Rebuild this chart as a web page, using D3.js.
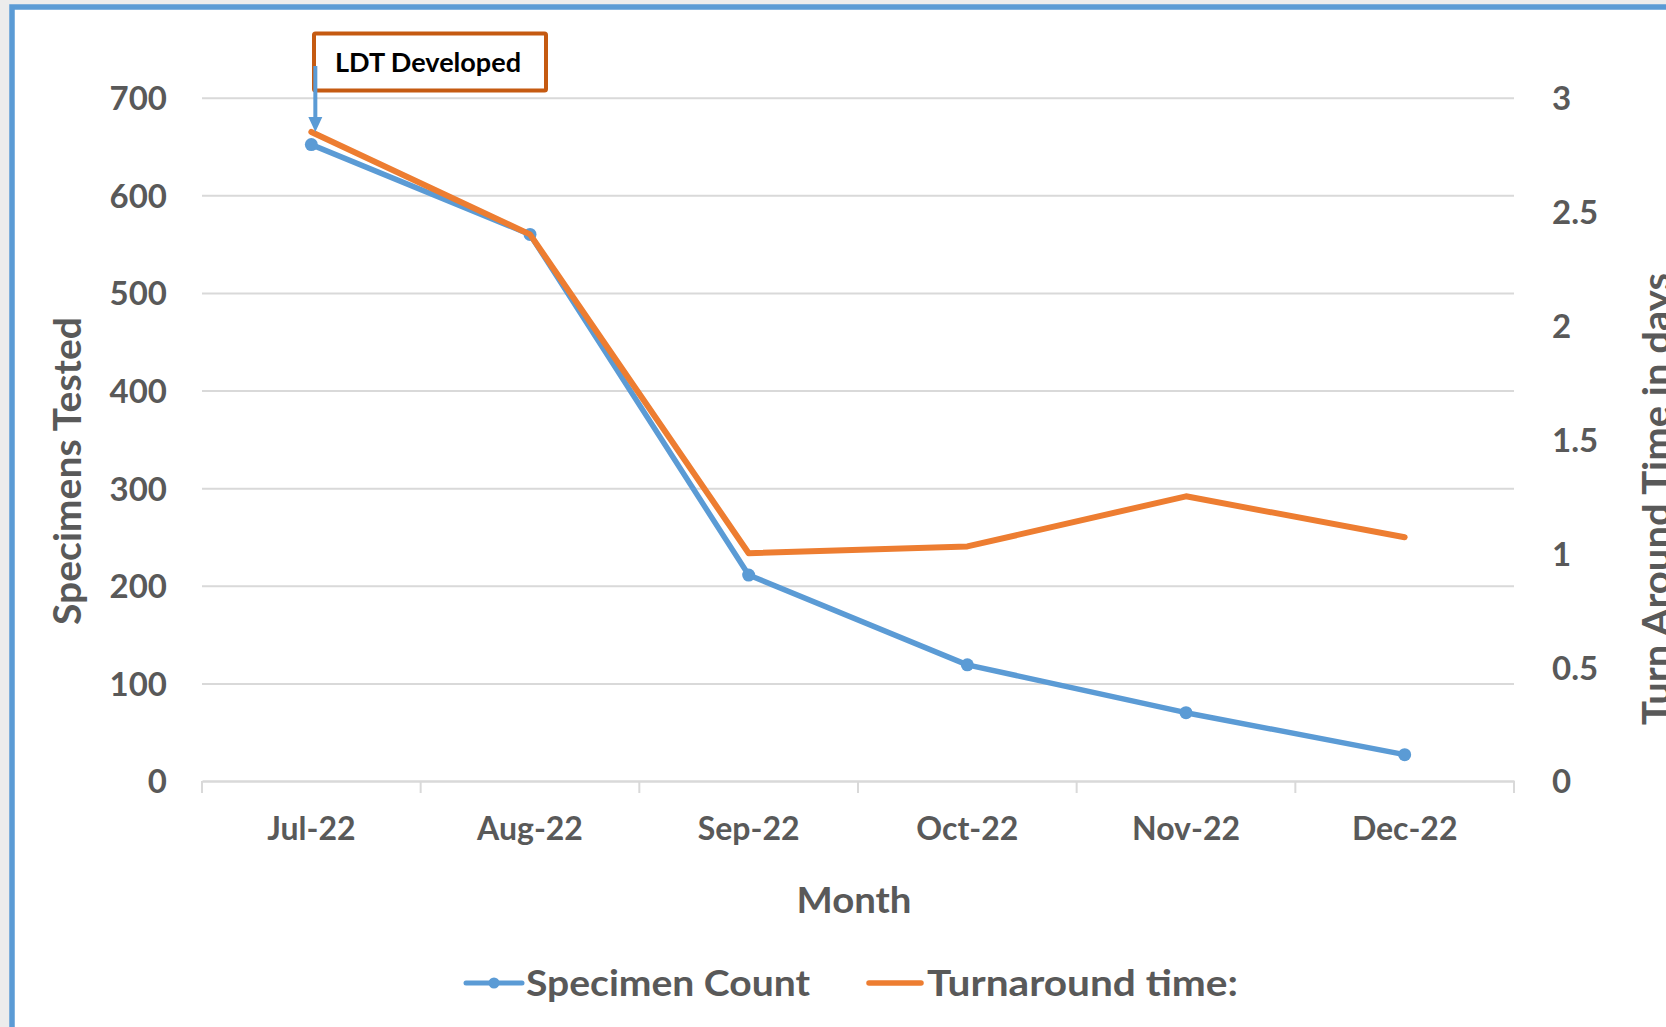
<!DOCTYPE html>
<html>
<head>
<meta charset="utf-8">
<script src="https://cdnjs.cloudflare.com/ajax/libs/d3/7.8.5/d3.min.js"></script>
<style>
  html, body { margin: 0; padding: 0; background: #ececec; }
  svg { display: block; }
  text { font-family: Lato, "Open Sans", sans-serif; font-weight: 700; }
</style>
</head>
<body>
<svg id="chart" width="1666" height="1027"></svg>
<script>
// ---- data ----
const categories = ["Jul-22", "Aug-22", "Sep-22", "Oct-22", "Nov-22", "Dec-22"];
const specimenCount = [652, 560, 211, 119, 70, 27];
const turnaroundDays = [2.85, 2.40, 1.00, 1.03, 1.25, 1.07];
const leftTicks = [0, 100, 200, 300, 400, 500, 600, 700];
const rightTicks = [0, 0.5, 1, 1.5, 2, 2.5, 3];
const rightTickLabels = ["0", "0.5", "1", "1.5", "2", "2.5", "3"];
const seriesNames = ["Specimen Count", "Turnaround time:"];
const annotationText = "LDT Developed";
const xTitle = "Month";
const yLeftTitle = "Specimens Tested";
const yRightTitle = "Turn Around Time in days";

// ---- style ----
const BLUE = "#5B9BD5", ORANGE = "#ED7D31", GRID = "#D9D9D9", TXT = "#595959";

const svg = d3.select("#chart");
const W = 1666, H = 1027;

// background + frame
svg.append("rect").attr("x", 0).attr("y", 0).attr("width", W).attr("height", H).attr("fill", "#ececec");
svg.append("rect").attr("x", 12).attr("y", 7).attr("width", W + 20).attr("height", H + 20)
  .attr("fill", "#ffffff").attr("stroke", BLUE).attr("stroke-width", 5.5);

const plot = { left: 202, right: 1514, top: 97.75, bottom: 781 };

const x = d3.scaleBand().domain(categories).range([plot.left, plot.right]).padding(0);
const yL = d3.scaleLinear().domain([0, 700]).range([plot.bottom, plot.top]);
const yR = d3.scaleLinear().domain([0, 3]).range([plot.bottom, plot.top]);

// gridlines
const grid = svg.append("g").attr("transform", `translate(${plot.left},0)`)
  .call(d3.axisLeft(yL).tickValues(leftTicks.filter(d => d > 0)).tickSize(-(plot.right - plot.left)).tickFormat(""));
grid.select(".domain").remove();
grid.selectAll(".tick line").attr("stroke", GRID).attr("stroke-width", 2);

// bottom axis line + band ticks
const xAxisG = svg.append("g").attr("transform", `translate(0,${plot.bottom})`)
  .call(d3.axisBottom(x).tickSize(0).tickPadding(0));
xAxisG.select(".domain").attr("stroke", GRID).attr("stroke-width", 2.5);
xAxisG.selectAll(".tick text").attr("font-size", 32).attr("fill", TXT).attr("dy", 0).attr("y", 59);
const bounds = categories.map(c => x(c)).concat([x.range()[1]]);
svg.append("g").selectAll("line").data(bounds).join("line")
  .attr("x1", d => d).attr("x2", d => d)
  .attr("y1", plot.bottom).attr("y2", plot.bottom + 12)
  .attr("stroke", GRID).attr("stroke-width", 2);

// left axis labels
const yLG = svg.append("g").attr("transform", `translate(${plot.left},0)`)
  .call(d3.axisLeft(yL).tickValues(leftTicks).tickSize(0).tickPadding(35));
yLG.select(".domain").remove();
yLG.selectAll(".tick text").attr("font-size", 33).attr("fill", TXT).attr("dy", "0.36em");

// right axis labels
const yRG = svg.append("g").attr("transform", `translate(${plot.right},0)`)
  .call(d3.axisRight(yR).tickValues(rightTicks).tickSize(0).tickPadding(38)
    .tickFormat((d, i) => rightTickLabels[i]));
yRG.select(".domain").remove();
yRG.selectAll(".tick text").attr("font-size", 33).attr("fill", TXT).attr("dy", "0.36em");

// axis titles
svg.append("text").attr("x", 854).attr("y", 913)
  .attr("text-anchor", "middle").attr("font-size", 37).attr("fill", TXT)
  .attr("textLength", 115).attr("lengthAdjust", "spacingAndGlyphs").text(xTitle);
svg.append("text").attr("transform", "translate(81,471) rotate(-90)")
  .attr("text-anchor", "middle").attr("font-size", 38).attr("fill", TXT)
  .attr("textLength", 308).attr("lengthAdjust", "spacingAndGlyphs").text(yLeftTitle);
svg.append("text").attr("transform", "translate(1670,725) rotate(-90)")
  .attr("text-anchor", "start").attr("font-size", 38).attr("fill", TXT)
  .attr("textLength", 452).attr("lengthAdjust", "spacingAndGlyphs").text(yRightTitle);

// lines
const cx = c => x(c) + x.bandwidth() / 2;
const lineL = d3.line().x((d, i) => cx(categories[i])).y(d => yL(d));
const lineR = d3.line().x((d, i) => cx(categories[i])).y(d => yR(d));

svg.append("path").datum(specimenCount).attr("d", lineL)
  .attr("fill", "none").attr("stroke", BLUE).attr("stroke-width", 5.5)
  .attr("stroke-linejoin", "round").attr("stroke-linecap", "round");
svg.append("g").selectAll("circle").data(specimenCount).join("circle")
  .attr("cx", (d, i) => cx(categories[i])).attr("cy", d => yL(d)).attr("r", 6.5).attr("fill", BLUE);
svg.append("path").datum(turnaroundDays).attr("d", lineR)
  .attr("fill", "none").attr("stroke", ORANGE).attr("stroke-width", 6)
  .attr("stroke-linejoin", "round").attr("stroke-linecap", "round");

// annotation
const tipX = cx(categories[0]) + 4, tipY = yR(turnaroundDays[0]);
svg.append("rect").attr("x", 314).attr("y", 33.5).attr("width", 232).attr("height", 57)
  .attr("fill", "#ffffff").attr("stroke", "#C55A11").attr("stroke-width", 4).attr("rx", 1.5);
svg.append("text").attr("x", 428).attr("y", 71.5).attr("text-anchor", "middle")
  .attr("font-size", 26).attr("fill", "#000000")
  .attr("textLength", 186).attr("lengthAdjust", "spacingAndGlyphs").text(annotationText);
svg.append("line").attr("x1", tipX).attr("x2", tipX).attr("y1", 66).attr("y2", tipY - 12)
  .attr("stroke", BLUE).attr("stroke-width", 4);
svg.append("path")
  .attr("d", `M${tipX - 7},${tipY - 15} L${tipX + 7},${tipY - 15} L${tipX},${tipY} Z`)
  .attr("fill", BLUE);

// legend
const leg = svg.append("g");
leg.append("line").attr("x1", 466).attr("x2", 522).attr("y1", 983).attr("y2", 983)
  .attr("stroke", BLUE).attr("stroke-width", 5).attr("stroke-linecap", "round");
leg.append("circle").attr("cx", 494).attr("cy", 983).attr("r", 5.5).attr("fill", BLUE);
leg.append("text").attr("x", 526).attr("y", 995.5).attr("font-size", 36).attr("fill", TXT)
  .attr("textLength", 284).attr("lengthAdjust", "spacingAndGlyphs").text(seriesNames[0]);
leg.append("line").attr("x1", 869).attr("x2", 921).attr("y1", 983).attr("y2", 983)
  .attr("stroke", ORANGE).attr("stroke-width", 5.5).attr("stroke-linecap", "round");
leg.append("text").attr("x", 927).attr("y", 995.5).attr("font-size", 36).attr("fill", TXT)
  .attr("textLength", 311).attr("lengthAdjust", "spacingAndGlyphs").text(seriesNames[1]);
</script>
</body>
</html>
